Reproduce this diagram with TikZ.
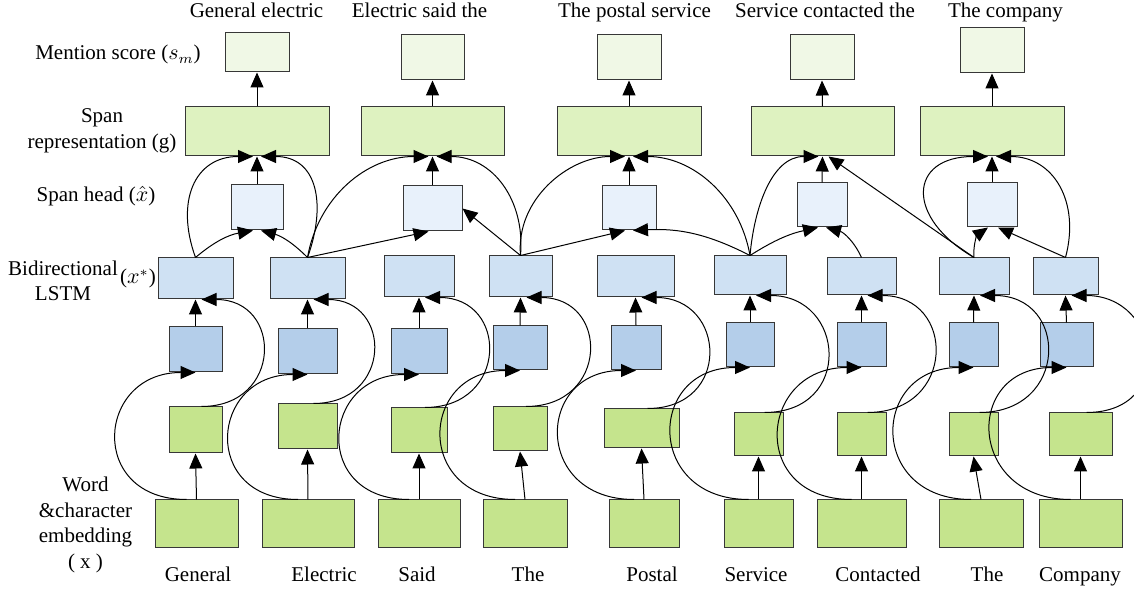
\documentclass[tikz,border=0pt]{standalone}
\usepackage{amsmath}
\usepackage{fontspec}
\setmainfont{Liberation Serif}
\usepackage{xcolor}
\usetikzlibrary{arrows.meta,positioning}

\definecolor{boxline}{RGB}{55,55,55}
\definecolor{embgreen}{RGB}{197,228,141}
\definecolor{spgreen}{RGB}{222,242,192}
\definecolor{msgreen}{RGB}{240,248,230}
\definecolor{lstmblue}{RGB}{207,225,243}
\definecolor{fwblue}{RGB}{180,206,234}
\definecolor{hdblue}{RGB}{232,241,251}

\begin{document}
\begin{tikzpicture}[
      x=0.5pt, y=0.5pt,
      box/.style={rectangle, draw=boxline, line width=0.5pt, inner sep=0pt},
      sz/.style 2 args={minimum width=#1*0.5pt, minimum height=#2*0.5pt},
      emb/.style={box, fill=embgreen},
      wvec/.style={box, fill=embgreen},
      fwd/.style={box, fill=fwblue},
      lstm/.style={box, fill=lstmblue},
      head/.style={box, fill=hdblue},
      span/.style={box, fill=spgreen},
      score/.style={box, fill=msgreen},
      arrow/.style={-{Triangle[length=7.5pt,width=6.5pt]}, line width=0.5pt},
      lbl/.style={font=\fontsize{10.5}{12.8}\selectfont, align=center, inner sep=0pt}
    ]
    \useasboundingbox (0,0) rectangle (1134,593);

    % embeddings and input words
    \foreach \n/\x/\w/\lx/\word in {1/196.5/83/198/General, 2/308/92/324/Electric,
        3/419/82/417/Said, 4/525/84/528/The, 5/644/70/652/Postal, 6/758.5/69/756/Service,
        7/861.5/89/878/Contacted, 8/981/84/987/The, 9/1080.5/83/1080/Company} {
      \node[emb, sz={\w}{48}] (emb\n) at (\x,69) {};
      \node[lbl, anchor=base] (word\n) at (\lx,11) {\word};
    }
    \foreach \n/\x/\cy/\w/\h in {1/195.5/163/53/46, 2/307.5/166.5/59/45, 3/419/162.5/56/45,
        4/520/164/54/44, 5/641.5/164.5/75/39, 6/758.5/158.5/49/43, 7/861.5/158.5/49/43,
        8/973.5/158.5/49/43, 9/1080.5/158.5/63/43}
      \node[wvec, sz={\w}{\h}] (wv\n) at (\x,\cy) {};
    \foreach \n/\x/\cy/\w/\h in {1/195.5/243.5/53/45, 2/307.5/241.5/59/45, 3/419/241.5/56/45,
        4/520/245/54/44, 5/636/245/50/44, 6/750/248/48/44, 7/861.5/248/49/44,
        8/973.5/248/49/44, 9/1066.5/248/53/44}
      \node[fwd, sz={\w}{\h}] (fw\n) at (\x,\cy) {};
    \foreach \n/\x/\cy/\w/\h in {1/195.5/314.5/75/41, 2/307.5/314.5/75/41, 3/419/316.5/70/41,
        4/520.5/316.5/63/41, 5/635.5/316.5/77/41, 6/750/317.5/72/39, 7/861.5/316.5/69/37,
        8/974/316.5/70/37, 9/1065.5/316.5/65/37}
      \node[lstm, sz={\w}{\h}] (bi\n) at (\x,\cy) {};

    % span heads, span representations, mention scores
    \foreach \n/\x/\cy/\w/\h in {1/257/385.5/52/45, 2/432.5/384.5/59/45, 3/629/385/54/44,
        4/822/388/50/44, 5/992/388/50/44}
      \node[head, sz={\w}{\h}] (hd\n) at (\x,\cy) {};
    \foreach \n/\x/\w in {1/257/144, 2/432.5/143, 3/629/144, 4/822.5/143, 5/992/144}
      \node[span, sz={\w}{49}] (sp\n) at (\x,461.5) {};
    \foreach \n/\x/\cy/\w/\h in {1/257/540.5/64/39, 2/432.5/535.5/63/45, 3/629/535.5/64/45,
        4/822/535.5/64/45, 5/992/542.5/64/45}
      \node[score, sz={\w}{\h}] (ms\n) at (\x,\cy) {};

    \foreach \x/\phrase [count=\n] in {256.5/General electric, 419.5/Electric said the,
        634.5/The postal service, 825/Service contacted the, 1005.5/The company}
      \node[lbl, anchor=base] (phrase\n) at (\x,575) {\phrase};

    % row labels
    \node[lbl, anchor=base] (lmention) at (118,533) {Mention score ($s_m$)};
    \node[lbl] (lspan) at (102,462) {Span\\representation (g)};
    \node[lbl, anchor=base] (lhead) at (96,391) {Span head ($\hat{x}$)};
    \node[lbl] (llstm) at (63,312) {Bidirectional\\LSTM};
    \node[lbl, anchor=base] (lstar) at (138,309) {($x^{*}$)};
    \node[lbl] (lemb) at (85.5,68) {Word\\\&character\\embedding\\( x )};

    % bidirectional lstm
    \foreach \n in {1,...,9} {
      \draw[arrow] (emb\n.north) -- (wv\n.south);
      \draw[arrow] ([xshift=-5pt]emb\n.north) to[out=180, in=180, looseness=2] (fw\n.south);
      \draw[arrow] ([xshift=3pt]wv\n.north) to[out=0, in=0, looseness=1.95] ([xshift=3pt]bi\n.south);
      \draw[arrow] (fw\n.north) -- (bi\n.south);
    }
    \foreach \n in {1,...,5} {
      \draw[arrow] (hd\n.north) -- (sp\n.south);
      \draw[arrow] (sp\n.north) -- (ms\n.south);
    }

    % spans
    \draw[arrow] (bi1.north) to[bend left=15] ([xshift=-2pt]hd1.south);
    \draw[arrow] (bi2.north) to[bend right=15] ([xshift=2pt]hd1.south);
    \draw[arrow] (bi1.north) to[out=110, in=180, looseness=1.3] ([xshift=-2pt]sp1.south);
    \draw[arrow] (bi2.north) to[out=70, in=0, looseness=1.3] ([xshift=2pt]sp1.south);

    \draw[arrow] (bi2.north) -- ([xshift=-2pt]hd2.south);
    \draw[arrow] (bi4.north) -- (hd2.east);
    \draw[arrow] (bi2.north) to[out=80, in=180] ([xshift=-2pt]sp2.south);
    \draw[arrow] (bi4.north) to[out=85, in=0, looseness=1.1] ([xshift=2pt]sp2.south);

    \draw[arrow] (bi4.north) -- ([xshift=-2pt]hd3.south);
    \draw[arrow] (bi6.north) to[bend right=15] ([xshift=2pt]hd3.south);
    \draw[arrow] (bi4.north) to[out=95, in=180] ([xshift=-2pt]sp3.south);
    \draw[arrow] (bi6.north) to[out=100, in=0] ([xshift=2pt]sp3.south);

    \draw[arrow] (bi6.north) to[bend left=10] ([xshift=-2pt]hd4.south);
    \draw[arrow] (bi7.north) to[bend right=25] ([xshift=2pt]hd4.south);
    \draw[arrow] (bi6.north) to[out=85, in=180] ([xshift=-2pt]sp4.south);
    \draw[arrow] (bi8.north) -- ([xshift=3pt]sp4.south);

    \draw[arrow] (bi8.north) to[bend left=30] ([xshift=-2pt]hd5.south);
    \draw[arrow] (bi9.north) -- ([xshift=3pt]hd5.south);
    \draw[arrow] (bi8.north) to[out=150, in=180, looseness=2] ([xshift=-2pt]sp5.south);
    \draw[arrow] (bi9.north) to[out=75, in=0, looseness=1.2] ([xshift=2pt]sp5.south);
  \end{tikzpicture}
\end{document}
